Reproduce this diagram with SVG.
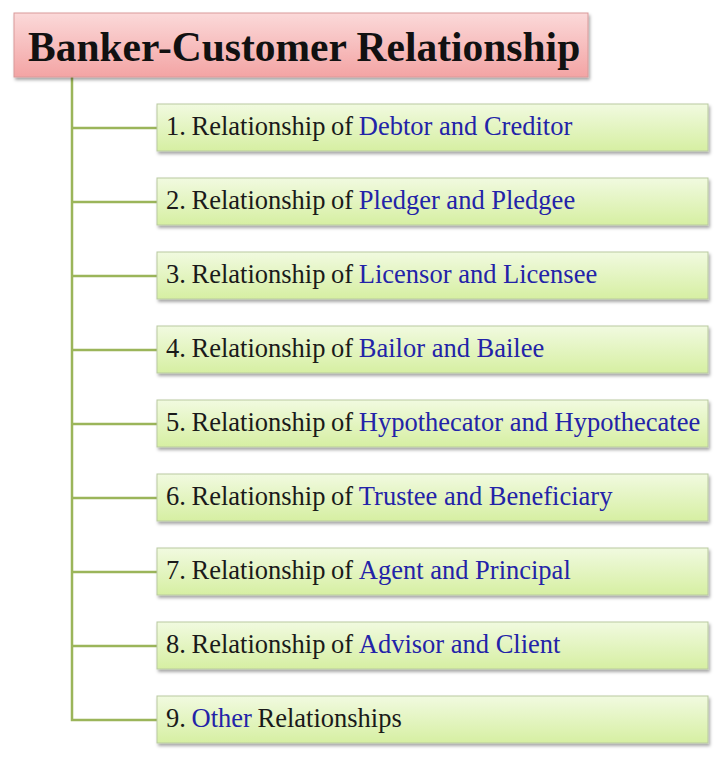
<svg xmlns="http://www.w3.org/2000/svg" width="720" height="758" viewBox="0 0 720 758">
<defs>
<linearGradient id="gPink" x1="0" y1="0" x2="0" y2="1">
<stop offset="0" stop-color="#fbd9d9"/>
<stop offset="1" stop-color="#f3a4a4"/>
</linearGradient>
<linearGradient id="gGreen" x1="0" y1="0" x2="0" y2="1">
<stop offset="0" stop-color="#f1fae0"/>
<stop offset="1" stop-color="#d6efa2"/>
</linearGradient>
<filter id="sh" x="-5%" y="-20%" width="110%" height="150%">
<feDropShadow dx="1.5" dy="2.5" stdDeviation="1.5" flood-color="#000" flood-opacity="0.35"/>
</filter>
</defs>
<style>
.title{font-family:"Liberation Serif",serif;font-weight:bold;font-size:41.5px;fill:#111}
.item{font-family:"Liberation Serif",serif;font-size:26.5px;fill:#1a1a1a;word-spacing:-1px}
.b{fill:#2323a8;word-spacing:0}
.box{fill:url(#gGreen);stroke:#b9c9a0;stroke-width:1;filter:url(#sh)}
.conn{stroke:#9bb55a;stroke-width:2.5;fill:none}
</style>
<rect width="720" height="758" fill="#ffffff"/>
<g id="connectors">
<path class="conn" d="M72 77 V720 H157"/>
<path class="conn" d="M72 128 H157 M72 202 H157 M72 276 H157 M72 350 H157 M72 424 H157 M72 498 H157 M72 572 H157 M72 646 H157"/>
</g>
<g id="root">
<rect x="14" y="13" width="574" height="64" fill="url(#gPink)" stroke="#d99a9a" stroke-width="1" filter="url(#sh)"/>
<text class="title" x="28" y="61">Banker-Customer Relationship</text>
</g>
<g id="n1"><rect class="box" x="157" y="104" width="551" height="47"/><text class="item" x="166" y="135">1. Relationship of <tspan class="b">Debtor and Creditor</tspan></text></g>
<g id="n2"><rect class="box" x="157" y="178" width="551" height="47"/><text class="item" x="166" y="209">2. Relationship of <tspan class="b">Pledger and Pledgee</tspan></text></g>
<g id="n3"><rect class="box" x="157" y="252" width="551" height="47"/><text class="item" x="166" y="283">3. Relationship of <tspan class="b">Licensor and Licensee</tspan></text></g>
<g id="n4"><rect class="box" x="157" y="326" width="551" height="47"/><text class="item" x="166" y="357">4. Relationship of <tspan class="b">Bailor and Bailee</tspan></text></g>
<g id="n5"><rect class="box" x="157" y="400" width="551" height="47"/><text class="item" x="166" y="431">5. Relationship of <tspan class="b">Hypothecator and Hypothecatee</tspan></text></g>
<g id="n6"><rect class="box" x="157" y="474" width="551" height="47"/><text class="item" x="166" y="505">6. Relationship of <tspan class="b">Trustee and Beneficiary</tspan></text></g>
<g id="n7"><rect class="box" x="157" y="548" width="551" height="47"/><text class="item" x="166" y="579">7. Relationship of <tspan class="b">Agent and Principal</tspan></text></g>
<g id="n8"><rect class="box" x="157" y="622" width="551" height="47"/><text class="item" x="166" y="653">8. Relationship of <tspan class="b">Advisor and Client</tspan></text></g>
<g id="n9"><rect class="box" x="157" y="696" width="551" height="47"/><text class="item" x="166" y="727">9. <tspan class="b">Other</tspan> Relationships</text></g>
</svg>
